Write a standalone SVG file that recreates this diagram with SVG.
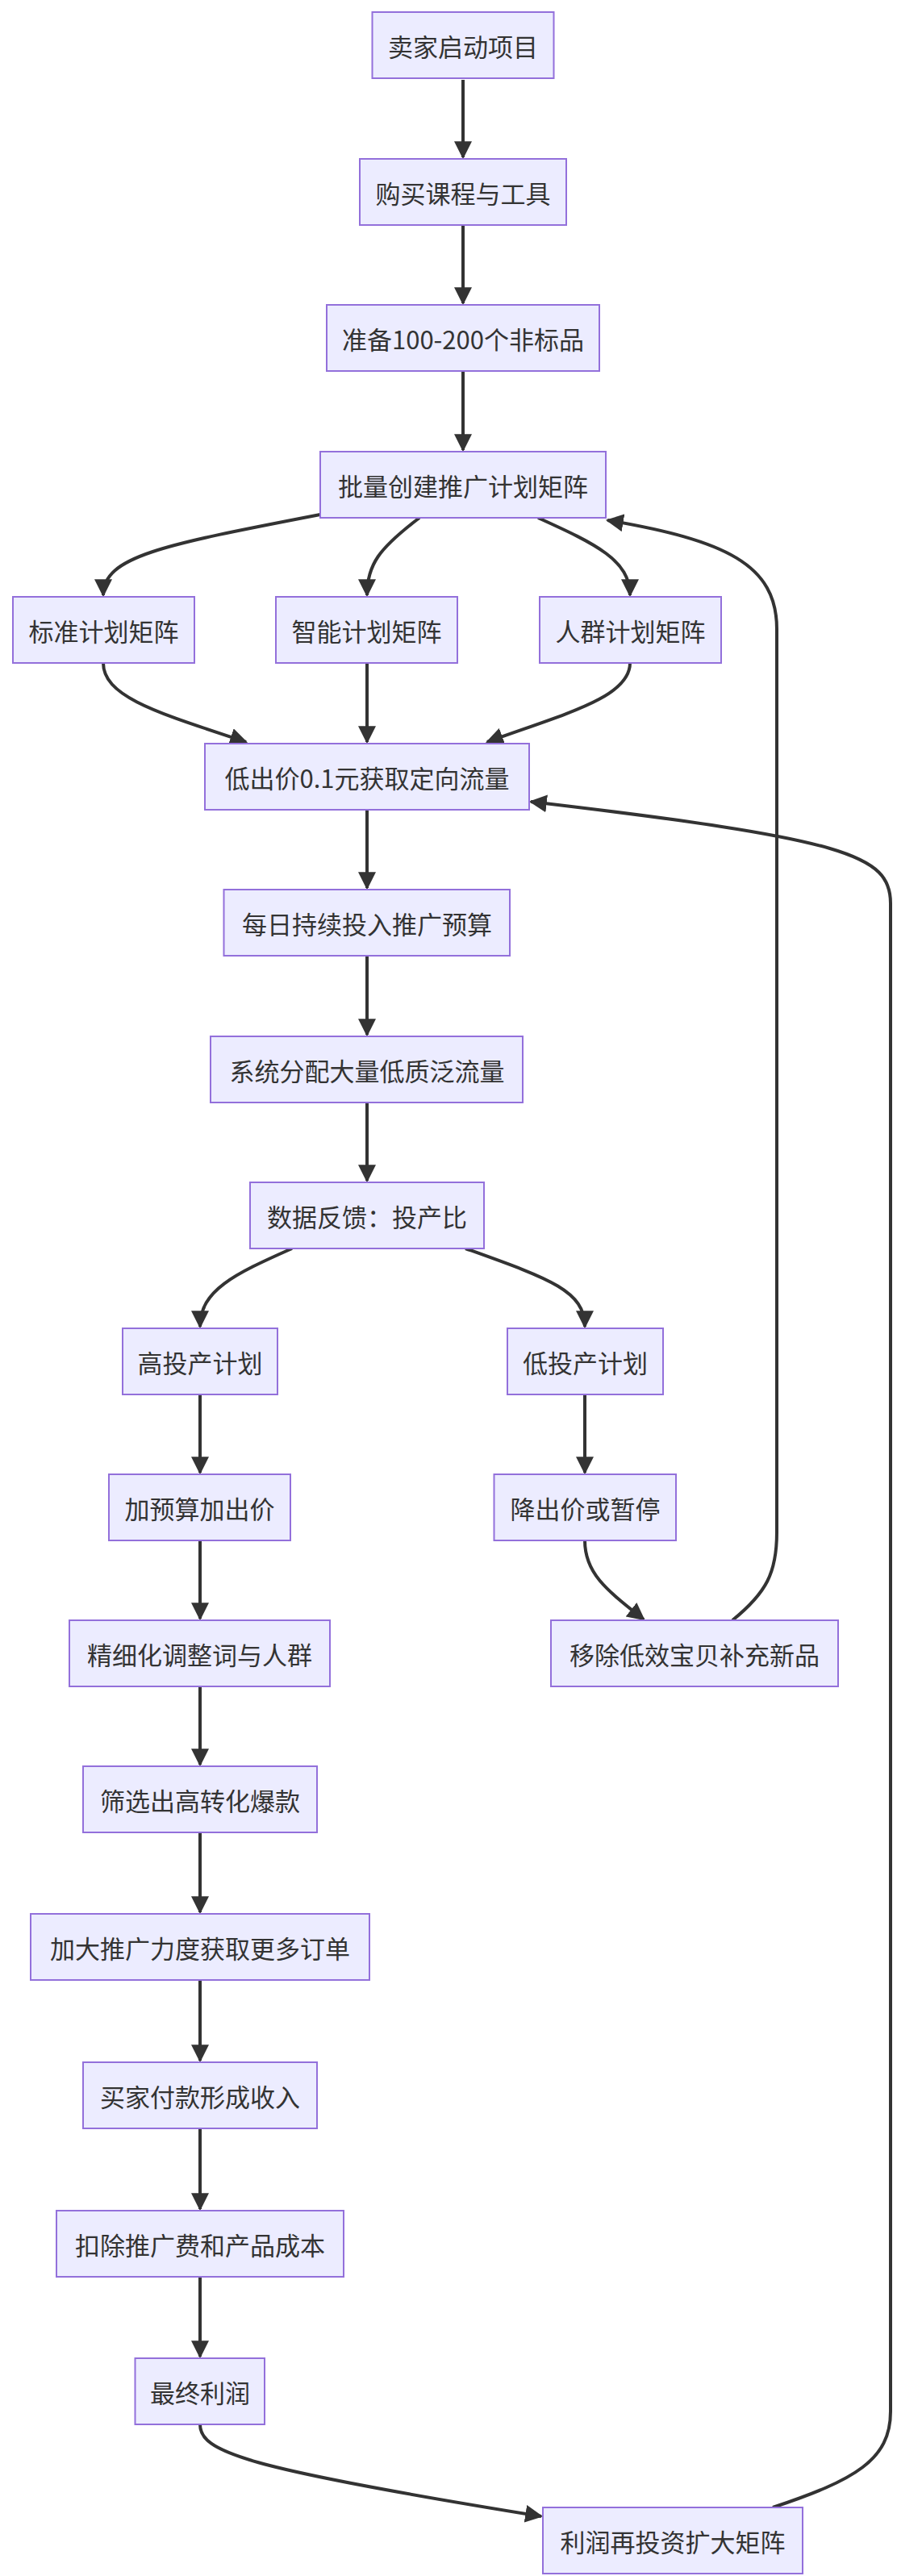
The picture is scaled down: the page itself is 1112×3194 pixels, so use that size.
<svg xmlns="http://www.w3.org/2000/svg" width="1112" height="3194" viewBox="0 0 1112 3194">
<style>
.n rect{fill:#ECECFF;stroke:#9370DB;stroke-width:2}
.n text{font-family:"Noto Sans CJK SC","Liberation Sans",sans-serif;font-size:31px;fill:#333;text-anchor:middle;dominant-baseline:central}
.e path{fill:none;stroke:#333;stroke-width:4;marker-end:url(#a)}
</style>
<defs><marker id="a" markerUnits="userSpaceOnUse" viewBox="0 0 20 20" refX="18" refY="10" markerWidth="22" markerHeight="22" orient="auto"><path d="M0,0 L20,10 L0,20 z" fill="#333"/></marker></defs>
<rect width="1112" height="3194" fill="#fff"/>
<g class="e">
<path d="M574,99 L574,195"/>
<path d="M574,279 L574,376"/>
<path d="M574,460 L574,558"/>
<path d="M397,638 C200,676 128,690 128,738"/>
<path d="M520,642 C470,680 455,700 455,738"/>
<path d="M667,642 C740,675 781,695 781,738"/>
<path d="M128,822 C128,865 200,885 305,920"/>
<path d="M455,822 L455,920"/>
<path d="M781,822 C781,865 700,885 604,920"/>
<path d="M455,1004 L455,1101"/>
<path d="M455,1185 L455,1283"/>
<path d="M455,1367 L455,1464"/>
<path d="M362,1548 C290,1580 248,1600 248,1645"/>
<path d="M577,1548 C680,1585 725,1600 725,1645"/>
<path d="M248,1729 L248,1826"/>
<path d="M725,1729 L725,1826"/>
<path d="M248,1910 L248,2007"/>
<path d="M725,1910 C725,1950 750,1970 798,2008"/>
<path d="M248,2091 L248,2188"/>
<path d="M248,2272 L248,2371"/>
<path d="M248,2455 L248,2555"/>
<path d="M248,2639 L248,2739"/>
<path d="M248,2823 L248,2922"/>
<path d="M248,3006 C248,3040 300,3060 671,3120"/>
<path d="M908,2009 C950,1975 963,1950 963,1900 L963,780 C963,700 900,670 753,645"/>
<path d="M958,3109 C1060,3075 1104,3050 1104,2990 L1104,1120 C1104,1060 1050,1040 658,994"/>
</g>
<g id="n1" class="n"><rect x="461.5" y="15" width="225" height="82"/><text x="574" y="56">卖家启动项目</text></g>
<g id="n2" class="n"><rect x="446" y="197" width="256" height="82"/><text x="574" y="238">购买课程与工具</text></g>
<g id="n3" class="n"><rect x="405" y="378" width="338" height="82"/><text x="574" y="419">准备100-200个非标品</text></g>
<g id="n4" class="n"><rect x="397" y="560" width="354" height="82"/><text x="574" y="601">批量创建推广计划矩阵</text></g>
<g id="n5" class="n"><rect x="16" y="740" width="225" height="82"/><text x="128.5" y="781">标准计划矩阵</text></g>
<g id="n6" class="n"><rect x="342" y="740" width="225" height="82"/><text x="454.5" y="781">智能计划矩阵</text></g>
<g id="n7" class="n"><rect x="669" y="740" width="225" height="82"/><text x="781.5" y="781">人群计划矩阵</text></g>
<g id="n8" class="n"><rect x="254" y="922" width="402" height="82"/><text x="455" y="963">低出价0.1元获取定向流量</text></g>
<g id="n9" class="n"><rect x="277.5" y="1103" width="354.5" height="82"/><text x="455" y="1144">每日持续投入推广预算</text></g>
<g id="n10" class="n"><rect x="261" y="1285" width="387" height="82"/><text x="455" y="1326">系统分配大量低质泛流量</text></g>
<g id="n11" class="n"><rect x="310" y="1466" width="290" height="82"/><text x="455" y="1507">数据反馈：投产比</text></g>
<g id="n12" class="n"><rect x="152" y="1647" width="192" height="82"/><text x="248" y="1688">高投产计划</text></g>
<g id="n13" class="n"><rect x="629" y="1647" width="193" height="82"/><text x="725.5" y="1688">低投产计划</text></g>
<g id="n14" class="n"><rect x="135" y="1828" width="225" height="82"/><text x="247.5" y="1869">加预算加出价</text></g>
<g id="n15" class="n"><rect x="612.5" y="1828" width="225.5" height="82"/><text x="725.5" y="1869">降出价或暂停</text></g>
<g id="n16" class="n"><rect x="86" y="2009" width="323" height="82"/><text x="247.5" y="2050">精细化调整词与人群</text></g>
<g id="n17" class="n"><rect x="683" y="2009" width="356" height="82"/><text x="861" y="2050">移除低效宝贝补充新品</text></g>
<g id="n18" class="n"><rect x="103" y="2190" width="290" height="82"/><text x="248" y="2231">筛选出高转化爆款</text></g>
<g id="n19" class="n"><rect x="38" y="2373" width="420" height="82"/><text x="248" y="2414">加大推广力度获取更多订单</text></g>
<g id="n20" class="n"><rect x="103" y="2557" width="290" height="82"/><text x="248" y="2598">买家付款形成收入</text></g>
<g id="n21" class="n"><rect x="70" y="2741" width="356" height="82"/><text x="248" y="2782">扣除推广费和产品成本</text></g>
<g id="n22" class="n"><rect x="167.5" y="2924" width="160.5" height="82"/><text x="248" y="2965">最终利润</text></g>
<g id="n23" class="n"><rect x="673" y="3109" width="322" height="82"/><text x="834" y="3150">利润再投资扩大矩阵</text></g>
</svg>
